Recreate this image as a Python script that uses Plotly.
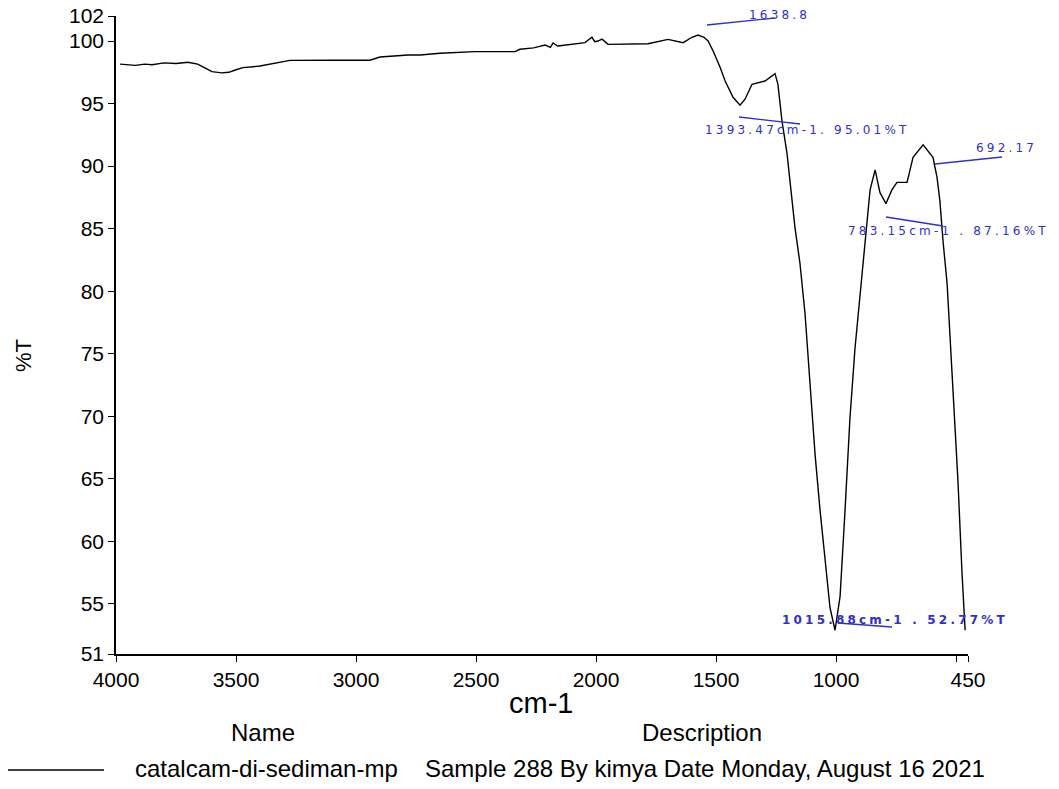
import plotly.graph_objects as go

# ---- data ----
wavenumber = [3983, 3920, 3880, 3850, 3800, 3750, 3700, 3660, 3630, 3600, 3560, 3530,
              3500, 3471, 3400, 3337, 3275, 3100, 2942, 2900, 2783, 2733, 2650, 2504,
              2337, 2317, 2260, 2212, 2190, 2179, 2160, 2150, 2046, 2017, 2005, 1992,
              1975, 1950, 1783, 1700, 1660, 1637, 1600, 1575, 1550, 1533, 1512, 1483,
              1462, 1429, 1400, 1379, 1350, 1325, 1296, 1254, 1242, 1225, 1204, 1171,
              1150, 1129, 1108, 1087, 1067, 1046, 1025, 1004, 983, 962, 942, 921, 900,
              879, 858, 837, 817, 792, 767, 746, 704, 679, 637, 596, 579, 567, 554, 537,
              525, 512, 492, 475, 462]
transmittance = [98.15, 98.05, 98.15, 98.1, 98.25, 98.2, 98.3, 98.15, 97.85, 97.55, 97.45, 97.5,
                 97.7, 97.87, 98.0, 98.2, 98.45, 98.46, 98.46, 98.72, 98.88, 98.88, 99.02, 99.15,
                 99.15, 99.34, 99.45, 99.68, 99.5, 99.85, 99.6, 99.62, 99.87, 100.3, 99.95, 100.0,
                 100.15, 99.73, 99.78, 100.13, 99.95, 99.87, 100.3, 100.48, 100.3, 100.0, 99.2, 97.9,
                 96.8, 95.5, 94.87, 95.35, 96.54, 96.67, 96.8, 97.39, 96.54, 93.6, 91.0, 85.1,
                 82.2, 78.2, 72.5, 66.9, 62.6, 58.4, 54.7, 52.9, 55.6, 62.6, 69.8, 75.4, 79.6,
                 83.9, 88.1, 89.7, 87.9, 87.0, 88.1, 88.7, 88.7, 90.7, 91.7, 90.7, 89.1, 87.2, 84.0, 80.6,
                 76.6, 71.5, 64.9, 57.5, 52.9]

x_tick_values = [4000, 3500, 3000, 2500, 2000, 1500, 1000, 500, 450]
x_tick_labels = ["4000", "3500", "3000", "2500", "2000", "1500", "1000", "", "450"]
y_tick_values = [51, 55, 60, 65, 70, 75, 80, 85, 90, 95, 100, 102]

peak_labels = ["1638.8", "1393.47cm-1. 95.01%T", "692.17",
               "783.15cm-1 . 87.16%T", "<b>1015.88cm-1 . 52.77%T</b>"]
legend_headers = ["Name", "Description"]
legend_name = "catalcam-di-sediman-mp"
legend_description = "Sample 288 By kimya Date Monday, August 16 2021"

# ---- layout geometry (reference pixels; page body has an 8px margin) ----
PAGE = 8
W, H = 1059 - PAGE, 789 - PAGE
L, R, T, B = 116, 968, 16, 654


def px(x):
    return (x - L) / (R - L)


def py(y):
    return (B - y) / (B - T)


BLUE = "#3030c8"
MAIN_FONT = "Liberation Sans, Arial, sans-serif"

fig = go.Figure()
fig.add_trace(go.Scatter(x=wavenumber, y=transmittance, mode="lines",
                         line=dict(color="black", width=1.4), showlegend=False,
                         hoverinfo="x+y"))

# peak label geometry: text centre and leader line ends in reference pixels
label_geom = [
    (779, 15, 707, 25, 775, 18),
    (807, 130, 739, 117, 800, 124),
    (1006, 148, 935, 164, 1002, 157),
    (948, 231, 886, 217, 943, 226),
    (895, 620, 838, 623, 892, 627),
]
shapes = []
annotations = []
for text, (tx, ty, x0, y0, x1, y1) in zip(peak_labels, label_geom):
    shapes.append(dict(type="line", xref="paper", yref="paper",
                       x0=px(x0), y0=py(y0), x1=px(x1), y1=py(y1),
                       line=dict(color=BLUE, width=1.3)))
    annotations.append(dict(xref="paper", yref="paper", x=px(tx), y=py(ty),
                            text='<span style="letter-spacing:3.2px">' + text + '</span>',
                            showarrow=False, xanchor="center", yanchor="middle",
                            font=dict(family="DejaVu Sans", size=12, color=BLUE)))

# axis titles
annotations.append(dict(xref="paper", yref="paper", x=px(541), y=py(703), text="cm-1",
                        showarrow=False, xanchor="center", yanchor="middle",
                        font=dict(family=MAIN_FONT, size=29, color="black")))
annotations.append(dict(xref="paper", yref="paper", x=px(23), y=py(356), text="%T",
                        showarrow=False, xanchor="center", yanchor="middle", textangle=-90,
                        font=dict(family=MAIN_FONT, size=22, color="black")))

# legend block
for text, (cx, cy) in zip(legend_headers, [(263, 732), (702, 732)]):
    annotations.append(dict(xref="paper", yref="paper", x=px(cx), y=py(cy), text=text,
                            showarrow=False, xanchor="center", yanchor="middle",
                            font=dict(family=MAIN_FONT, size=24, color="black")))
annotations.append(dict(xref="paper", yref="paper", x=px(133), y=py(769), text=legend_name,
                        showarrow=False, xanchor="left", yanchor="middle",
                        font=dict(family=MAIN_FONT, size=24, color="black")))
annotations.append(dict(xref="paper", yref="paper", x=px(423), y=py(769), text=legend_description,
                        showarrow=False, xanchor="left", yanchor="middle",
                        font=dict(family=MAIN_FONT, size=24, color="black")))
shapes.append(dict(type="line", xref="paper", yref="paper",
                   x0=px(7), y0=py(770), x1=px(104), y1=py(770),
                   line=dict(color="black", width=1.5)))

fig.update_layout(
    width=W, height=H,
    margin=dict(l=L - PAGE, r=W - (R - PAGE), t=T - PAGE, b=H - (B - PAGE), pad=0,
                autoexpand=False),
    paper_bgcolor="white", plot_bgcolor="white",
    showlegend=False,
    shapes=shapes, annotations=annotations,
    xaxis=dict(range=[4000, 450], tickmode="array", tickvals=x_tick_values,
               ticktext=x_tick_labels, ticks="outside", ticklen=6, tickwidth=1.3,
               tickcolor="black", showline=True, linecolor="black", linewidth=1.5,
               showgrid=False, zeroline=False, automargin=False,
               ticklabeloverflow="allow",
               tickfont=dict(family=MAIN_FONT, size=21, color="black")),
    yaxis=dict(range=[51, 102], tickmode="array", tickvals=y_tick_values,
               ticks="outside", ticklen=6, tickwidth=1.3, tickcolor="black",
               showline=True, linecolor="black", linewidth=1.5,
               showgrid=False, zeroline=False, automargin=False,
               ticklabeloverflow="allow",
               tickfont=dict(family=MAIN_FONT, size=21, color="black")),
)

fig.write_html("out.html")
